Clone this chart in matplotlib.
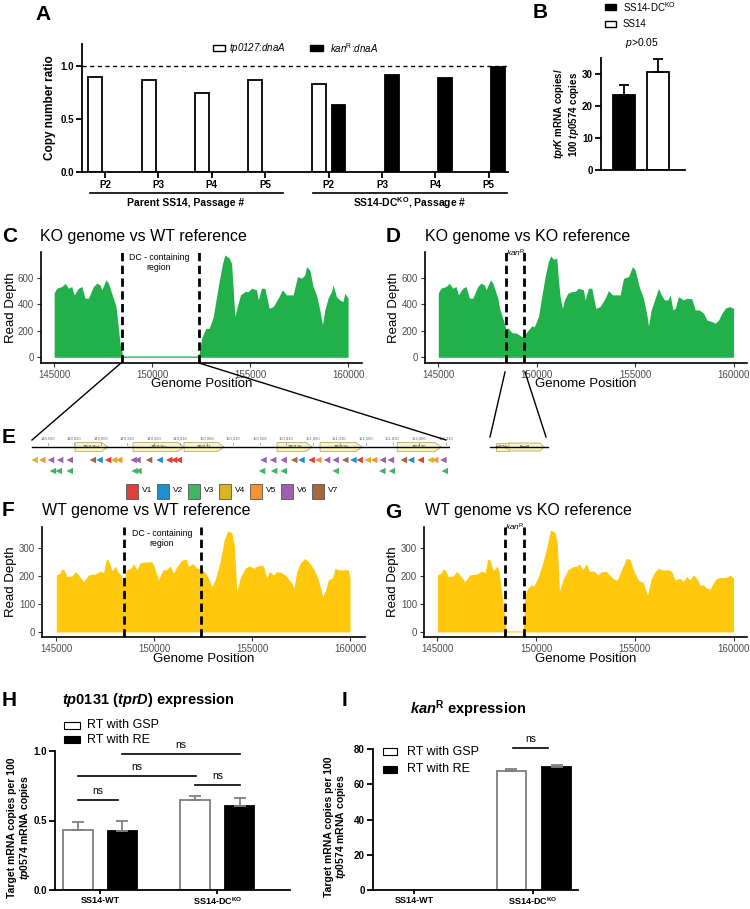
import numpy as np
import matplotlib
matplotlib.use('Agg')
import matplotlib.pyplot as plt
from matplotlib.patches import Rectangle, Polygon
from matplotlib.lines import Line2D

plt.rcParams['font.family'] = ['Liberation Sans', 'DejaVu Sans']
plt.rcParams['mathtext.fontset'] = 'custom'
plt.rcParams['mathtext.rm'] = 'Liberation Sans:bold'
plt.rcParams['mathtext.bf'] = 'Liberation Sans:bold'
plt.rcParams['mathtext.it'] = 'Liberation Sans:italic:bold'
plt.rcParams['mathtext.sf'] = 'Liberation Sans:italic'
plt.rcParams['mathtext.cal'] = 'Liberation Sans'

# ---------------- data ----------------
# A: copy number ratios
passages = ['P2', 'P3', 'P4', 'P5']
parent_tp0127 = [0.90, 0.865, 0.75, 0.865]
ko_tp0127 = [0.835, 0.0, 0.0, 0.0]
ko_kanR = [0.635, 0.92, 0.885, 0.995]

# B: tprK expression
b_means = [23.3, 30.7]
b_err = [3.2, 4.0]

# C/D: KO genome read depth (shared left flank)
ko_left_pos = [145000, 145136, 145391, 145560, 145730, 145900, 146019, 146240, 146410,
               146580, 146750, 147004, 147174, 147344, 147429, 147650, 147769, 148024]
ko_left_depth = [485, 520, 533, 557, 520, 533, 470, 520, 533,
                 445, 445, 533, 558, 545, 508, 583, 558, 445]
c_pos = [148160, 148363, 148500, 148600, 152300, 152406, 152525, 152746, 152916, 153120,
         153375, 153595, 153714, 153935, 154054, 154224, 154343, 154513, 154734, 154903,
         155073, 155328, 155413, 155583, 155752, 155973, 156177, 156432, 156653, 156857,
         157197, 157417, 157621, 157791, 157876, 158046, 158216, 158386, 158556, 158692,
         158810, 158980, 159150, 159235, 159405, 159575, 159745, 159830, 160000]
c_depth = [382, 105, 12, 10, 10, 30, 143, 218, 218, 306,
           533, 708, 771, 746, 708, 306, 382, 470, 495, 495,
           520, 508, 432, 520, 520, 369, 382, 445, 508, 470,
           470, 608, 595, 620, 683, 658, 533, 470, 357, 244,
           357, 445, 495, 545, 457, 432, 420, 482, 445]
d_pos = [148136, 148305, 148424, 148559, 148729, 148983, 149237, 149373, 149576, 149746,
         149881, 150085, 150254, 150424, 150593, 150712, 150847, 151017, 151102, 151186,
         151305, 151407, 151576, 151780, 151949, 152119, 152373, 152458, 152627, 152797,
         153000, 153220, 153475, 153644, 153847, 154237, 154407, 154661, 154864, 155000,
         155203, 155424, 155593, 155678, 155813, 156017, 156186, 156322, 156491, 156661,
         156780, 156915, 157034, 157203, 157458, 157627, 157881, 158051, 158254, 158475,
         158644, 158898, 159068, 159237, 159407, 159576, 159780, 160000]
d_depth = [357, 281, 218, 218, 186, 181, 156, 168, 206, 236,
           231, 306, 457, 608, 721, 764, 739, 746, 583, 457,
           369, 432, 482, 495, 495, 520, 508, 432, 520, 520,
           369, 382, 445, 502, 470, 470, 595, 608, 683, 658,
           533, 445, 319, 236, 357, 445, 520, 470, 432, 432,
           470, 357, 369, 457, 432, 445, 440, 357, 357, 332,
           281, 269, 256, 281, 332, 369, 382, 369]

# F/G: WT genome read depth
f_pos = [145000, 145170, 145289, 145408, 145544, 145799, 145969, 146139, 146395, 146650,
         146990, 147245, 147415, 147551, 147670, 147840, 148010, 148129, 148299, 148435,
         148571, 148810, 148946, 149116, 149286, 149626, 149881, 150000, 150221, 150442,
         150646, 150816, 150986, 151156, 151412, 151633, 151752, 151973, 152177, 152381,
         152602, 152772, 152942, 153112, 153367, 153571, 153759, 153963, 154099, 154218,
         154388, 154643, 154864, 155068, 155238, 155408, 155578, 155748, 155884, 156088,
         156259, 156514, 156769, 157024, 157143, 157279, 157449, 157670, 157789, 157959,
         158214, 158384, 158605, 158724, 158895, 159116, 159235, 159405, 159660, 159915,
         160000]
f_depth = [205, 210, 226, 222, 199, 201, 217, 205, 181, 205,
           208, 219, 213, 261, 258, 220, 237, 217, 205, 177,
           223, 229, 246, 223, 249, 252, 252, 235, 187, 223,
           225, 237, 211, 235, 258, 261, 235, 246, 229, 229,
           213, 193, 163, 187, 252, 330, 363, 356, 306, 145,
           193, 229, 237, 229, 235, 240, 237, 193, 217, 205,
           217, 213, 199, 175, 157, 217, 246, 264, 258, 246,
           217, 187, 127, 145, 187, 196, 229, 223, 223, 223,
           193]
g_pos = [148220, 148356, 148475, 148540, 149356, 149441, 149576, 149746, 149881, 150085,
         150305, 150508, 150729, 150932, 151068, 151186, 151356, 151610, 151864, 152034,
         152203, 152373, 152542, 152712, 152915, 153136, 153305, 153559, 153729, 153949,
         154119, 154322, 154576, 154746, 154966, 155169, 155424, 155644, 155813, 156017,
         156220, 156356, 156559, 156729, 156864, 157034, 157288, 157458, 157627, 157797,
         157966, 158136, 158305, 158475, 158644, 158814, 158983, 159153, 159407, 159661,
         159831, 160000]
g_depth = [163, 92, 14, 4, 4, 133, 157, 169, 165, 193,
           240, 294, 365, 360, 324, 145, 187, 223, 235, 235,
           244, 223, 246, 217, 220, 205, 217, 217, 205, 189,
           187, 223, 264, 261, 217, 187, 177, 133, 187, 217,
           229, 223, 223, 223, 217, 187, 193, 181, 199, 187,
           205, 193, 169, 169, 157, 154, 177, 193, 196, 196,
           205, 193]

dc_region = [148450, 152400]
kan_region = [148430, 149375]

# E: gene map of DC-containing region
gene_names = ['TP0126d', 'TP0126c', 'TP0127', 'TP0128', 'TP0129', 'TP0130']
gene_start = [148816, 149363, 149844, 150721, 151127, 151854]
gene_end = [149127, 149844, 150221, 151052, 151523, 152269]
motif_pos = [148435, 148507, 148589, 148675, 148766, 148984, 149047, 149128, 149183, 149233,
             149369, 149405, 149514, 149614, 149704, 149750, 149795, 150593, 150684, 150784,
             150883, 150951, 151047, 151110, 151192, 151274, 151364, 151441, 151500, 151577,
             151636, 151718, 151795, 151917, 151985, 152076, 152167, 152212, 152289,
             148607, 148662, 148766, 149378, 149414, 150579, 150693, 150784, 151274, 151714,
             151804, 152303]
motif_row = [1] * 39 + [2] * 12
motif_type = ['V4', 'V5', 'V6', 'V6', 'V6', 'V7', 'V2', 'V1', 'V4', 'V5',
              'V6', 'V6', 'V7', 'V2', 'V1', 'V1', 'V1', 'V6', 'V6', 'V6',
              'V7', 'V2', 'V1', 'V5', 'V6', 'V6', 'V7', 'V2', 'V1', 'V4',
              'V5', 'V6', 'V6', 'V7', 'V2', 'V1', 'V4', 'V5', 'V6',
              'V3', 'V3', 'V3', 'V3', 'V3', 'V3', 'V3', 'V3', 'V3', 'V3',
              'V3', 'V3']
v_names = ['V1', 'V2', 'V3', 'V4', 'V5', 'V6', 'V7']
v_colors = ['#e0403a', '#1f8fd0', '#3fb560', '#d8b526', '#f59331', '#9d62ad', '#a4683f']

# H: tp0131 expression
h_groups = ['SS14-WT', r'SS14-DC$^{\mathrm{KO}}$']
h_gsp = [0.435, 0.646]
h_gsp_err = [0.051, 0.030]
h_re = [0.423, 0.603]
h_re_err = [0.077, 0.059]

# I: kanR expression
i_gsp = [0.0, 67.4]
i_gsp_err = [0.0, 1.3]
i_re = [0.0, 69.6]
i_re_err = [0.0, 1.5]

# ---------------- helpers ----------------
W, H = 750, 909
fig = plt.figure(figsize=(7.5, 9.09), dpi=100)


def box(l, t, r, b):
    return [l / W, 1 - b / H, (r - l) / W, (b - t) / H]


def ftext(x, y, s, **kw):
    kw.setdefault('va', 'center')
    fig.text(x / W, 1 - y / H, s, **kw)


def fline(x0, y0, x1, y1, **kw):
    kw.setdefault('color', 'black')
    fig.add_artist(Line2D([x0 / W, x1 / W], [1 - y0 / H, 1 - y1 / H],
                          transform=fig.transFigure, **kw))


def frect(x, y, w, h, **kw):
    fig.add_artist(Rectangle((x / W, 1 - (y + h) / H), w / W, h / H,
                             transform=fig.transFigure, **kw))


def prism_axes(ax, size=7):
    for s in ['top', 'right']:
        ax.spines[s].set_visible(False)
    for s in ['left', 'bottom']:
        ax.spines[s].set_linewidth(1.3)
    ax.tick_params(width=1.3, length=4, labelsize=size, pad=2)
    for lab in ax.get_xticklabels() + ax.get_yticklabels():
        lab.set_fontweight('bold')


def coverage(ax, pos, depth, color, vlines, xlim, ylim, yticks):
    ax.fill_between(pos, 0, depth, color=color, lw=0)
    for v in vlines:
        ax.axvline(v, color='black', lw=2, ls=(0, (3, 1.6)))
    ax.set_xlim(xlim)
    ax.set_ylim(ylim)
    ax.set_xticks([145000, 150000, 155000, 160000])
    ax.set_yticks(yticks)
    for s in ['top', 'right']:
        ax.spines[s].set_visible(False)
    for s in ['left', 'bottom']:
        ax.spines[s].set_linewidth(1.2)
    ax.tick_params(colors='#333333', labelcolor='#4d4d4d', labelsize=7, length=3, pad=2)
    ax.set_xlabel('Genome Position', fontsize=9.5)
    ax.set_ylabel('Read Depth', fontsize=9.5)
    ax.xaxis.label.set_va('center')
    ax.yaxis.label.set_va('center')


# ---------------- A ----------------
ax_a = fig.add_axes(box(82, 44, 508, 172))
x_par = np.arange(4)
x_ko = np.arange(4) + 4.2
ax_a.bar(x_par - 0.18, parent_tp0127, 0.26, color='white', edgecolor='black', lw=1.3)
ko_w = np.array(ko_tp0127)
ax_a.bar((x_ko - 0.18)[ko_w > 0], ko_w[ko_w > 0], 0.26, color='white', edgecolor='black', lw=1.3)
ax_a.bar(x_ko + 0.18, ko_kanR, 0.26, color='black', edgecolor='black', lw=1.3)
ax_a.axhline(1.0, color='black', lw=1, ls=(0, (3, 2.5)))
ax_a.set_xlim(-0.43, 7.56)
ax_a.set_ylim(0, 1.21)
ax_a.set_yticks([0, 0.5, 1.0])
ax_a.set_yticklabels(['0.0', '0.5', '1.0'])
ax_a.set_xticks(np.r_[x_par, x_ko])
ax_a.set_xticklabels(passages * 2)
prism_axes(ax_a)
ax_a.set_ylabel('Copy number ratio', fontsize=8.5, fontweight='bold', va='center')
ax_a.yaxis.set_label_coords(-0.075, 0.5)
frect(213, 45, 12, 6, facecolor='white', edgecolor='black', lw=1)
ftext(229, 48, r'$\mathsf{tp0127}$:$\mathsf{dnaA}$', fontsize=7)
frect(310, 45, 13, 6, facecolor='black', edgecolor='black', lw=1)
ftext(330, 48, r'$\mathsf{kan}^{\mathcal{R}}$:$\mathsf{dnaA}$', fontsize=7)
fline(90, 193, 283, 193, lw=1.2)
fline(313, 193, 507, 193, lw=1.2)
ftext(186, 203, 'Parent SS14, Passage #', ha='center', fontsize=7.5, fontweight='bold')
ftext(410, 203, r'SS14-DC$^{\mathrm{KO}}$, Passage #', ha='center', fontsize=7.5, fontweight='bold')

# ---------------- B ----------------
ax_b = fig.add_axes(box(601, 58, 685, 170))
ax_b.bar([0, 1], b_means, 0.66, color=['black', 'white'], edgecolor='black', lw=1.3)
ax_b.errorbar([0, 1], b_means, yerr=[[0, 0], b_err], fmt='none', ecolor='black',
              elinewidth=1.3, capsize=3.5, capthick=1.3)
ax_b.set_xlim(-0.67, 1.79)
ax_b.set_ylim(0, 35)
ax_b.set_yticks([0, 10, 20, 30])
ax_b.set_xticks([])
prism_axes(ax_b)
ax_b.set_ylabel(r'$\mathit{tprK}$ mRNA copies/' + '\n' + r'100 $\mathit{tp0574}$ copies',
                fontsize=7, fontweight='bold', linespacing=1.05, va='center')
ax_b.yaxis.set_label_coords(-0.41, 0.5)
frect(605, 4, 11, 6, facecolor='black', edgecolor='black', lw=1)
ftext(623, 7, r'SS14-DC$^{\mathcal{KO}}$', fontsize=7)
frect(605, 21, 11, 6, facecolor='white', edgecolor='black', lw=1)
ftext(623, 24, 'SS14', fontsize=7)
ftext(642, 43, r'$\mathsf{p}$>0.05', ha='center', fontsize=7.5)

# ---------------- C / D ----------------
green = '#22b04b'
ax_c = fig.add_axes(box(41, 252, 362, 363))
coverage(ax_c, ko_left_pos + c_pos, ko_left_depth + c_depth, green, dc_region,
         (144330, 160710), (-43, 793), [0, 200, 400, 600])
ax_c.xaxis.set_label_coords(0.5, -0.19)
ax_c.yaxis.set_label_coords(-0.095, 0.5)
ftext(159, 258, 'DC - containing', ha='center', fontsize=6.3)
ftext(159, 268, 'region', ha='center', fontsize=6.3)
ftext(40, 236, 'KO genome vs WT reference', fontsize=11.5)

ax_d = fig.add_axes(box(425, 252, 747, 363))
coverage(ax_d, ko_left_pos + d_pos, ko_left_depth + d_depth, green, kan_region,
         (144324, 160681), (-43, 793), [0, 200, 400, 600])
ax_d.xaxis.set_label_coords(0.5, -0.19)
ax_d.yaxis.set_label_coords(-0.095, 0.5)
ftext(516, 253, r'$\mathsf{kan}^{\mathcal{R}}$', ha='center', fontsize=6)
ftext(425, 236, 'KO genome vs KO reference', fontsize=11.5)

# ---------------- F / G ----------------
yellow = '#ffc80d'
ax_f = fig.add_axes(box(42, 527, 365, 637))
coverage(ax_f, f_pos, f_depth, yellow, dc_region,
         (144270, 160765), (-18, 377), [0, 100, 200, 300])
ax_f.xaxis.set_label_coords(0.5, -0.2)
ax_f.yaxis.set_label_coords(-0.095, 0.5)
ftext(162, 533, 'DC - containing', ha='center', fontsize=6.3)
ftext(162, 543, 'region', ha='center', fontsize=6.3)
ftext(42, 510, 'WT genome vs WT reference', fontsize=11.5)

ax_g = fig.add_axes(box(424, 527, 747, 637))
coverage(ax_g, f_pos[:18] + g_pos, f_depth[:18] + g_depth, yellow, kan_region,
         (144324, 160681), (-18, 377), [0, 100, 200, 300])
ax_g.xaxis.set_label_coords(0.5, -0.2)
ax_g.yaxis.set_label_coords(-0.095, 0.5)
ftext(515, 527, r'$\mathsf{kan}^{\mathcal{R}}$', ha='center', fontsize=6)
ftext(425, 510, 'WT genome vs KO reference', fontsize=11.5)

# ---------------- E ----------------
ax_e = fig.add_axes(box(20, 425, 450, 515))
ax_e.set_xlim(148297, 152352)
ax_e.set_ylim(515, 425)
ax_e.axis('off')
ax_e.plot([148410, 152350], [447, 447], color='black', lw=1)
for t in range(148560, 152311, 250):
    ax_e.plot([t, t], [445, 443], color='#888888', lw=0.5)
    ax_e.text(t, 439, f'{t:,}', ha='center', va='center', fontsize=3, color='#666666')
for name, s, e in zip(gene_names, gene_start, gene_end):
    tip = min(60, (e - s) * 0.3)
    ax_e.add_patch(Polygon([[s, 442.5], [e - tip, 442.5], [e, 447], [e - tip, 451.5], [s, 451.5]],
                           closed=True, facecolor='#f8f3c1', edgecolor='#b9ad6b', lw=0.6))
    ax_e.text((s + e) / 2, 447, name, ha='center', va='center', fontsize=3, color='#333333')
col = dict(zip(v_names, v_colors))
mp = np.array(motif_pos)
mr = np.array(motif_row)
for v in v_names:
    sel = np.array([m == v for m in motif_type])
    ax_e.scatter(mp[sel], np.where(mr[sel] == 1, 460, 471), marker='<', s=22,
                 color=col[v], edgecolors='none')
for k, (v, c) in enumerate(zip(v_names, v_colors)):
    x0 = 126 + k * 31
    frect(x0, 484, 12, 15, facecolor=c, edgecolor='#555555', lw=0.6)
    ftext(x0 + 16, 491, v, fontsize=6)
ftext(2, 437, 'E', fontsize=15, fontweight='bold')

# kanR insertion map
ax_k = fig.add_axes(box(486, 440, 552, 455))
ax_k.set_xlim(486, 552)
ax_k.set_ylim(455, 440)
ax_k.axis('off')
ax_k.plot([490, 548], [447, 447], color='black', lw=1)
ax_k.add_patch(Polygon([[496, 443], [509, 443], [509, 451], [496, 451]], closed=True,
                       facecolor='#f8f3c1', edgecolor='#b9ad6b', lw=0.6))
ax_k.add_patch(Polygon([[509, 443], [540, 443], [544, 447], [540, 451], [509, 451]], closed=True,
                       facecolor='#f8f3c1', edgecolor='#b9ad6b', lw=0.6))
ax_k.text(502.5, 447, 'tp0574p', ha='center', va='center', fontsize=2.5)
ax_k.text(525, 447, 'KanR', ha='center', va='center', fontsize=3)

# connectors
fline(121, 363, 32, 440, lw=1)
fline(199, 363, 446, 440, lw=1)
fline(505, 372, 490, 437, lw=1)
fline(525, 372, 546, 437, lw=1)

# ---------------- H ----------------
ax_h = fig.add_axes(box(55, 751, 290, 890))
xg = np.arange(2)
ax_h.bar(xg - 0.19, h_gsp, 0.25, color='white', edgecolor='#808080', lw=1.3)
ax_h.errorbar(xg - 0.19, h_gsp, yerr=[[0, 0], h_gsp_err], fmt='none', ecolor='#808080',
              elinewidth=1.3, capsize=4, capthick=1.3)
ax_h.bar(xg + 0.19, h_re, 0.25, color='black', edgecolor='black', lw=1.3)
ax_h.errorbar(xg + 0.19, h_re, yerr=[[0, 0], h_re_err], fmt='none', ecolor='#808080',
              elinewidth=1.3, capsize=4, capthick=1.3)
ax_h.set_xlim(-0.385, 1.62)
ax_h.set_ylim(0, 1.0)
ax_h.set_yticks([0, 0.5, 1.0])
ax_h.set_yticklabels(['0.0', '0.5', '1.0'])
ax_h.set_xticks(xg)
ax_h.set_xticklabels(h_groups)
prism_axes(ax_h)
ax_h.tick_params(axis='x', length=3, pad=1, labelsize=6.5)
for x0, x1, y in [(-0.19, 0.154, 0.646), (0.81, 1.19, 0.755), (-0.19, 0.82, 0.82), (0.19, 1.19, 0.98)]:
    ax_h.plot([x0, x1], [y, y], color='black', lw=1.2, clip_on=False)
    ax_h.text((x0 + x1) / 2, y + 0.03, 'ns', ha='center', va='bottom', fontsize=7.5)
ax_h.set_ylabel('Target mRNA copies per 100\n' + r'$\mathit{tp0574}$ mRNA copies',
                fontsize=7.5, fontweight='bold', linespacing=1.05, va='center')
ax_h.yaxis.set_label_coords(-0.15, 0.45)
ftext(62, 700, r'$\mathit{tp0131}$ ($\mathit{tprD}$) expression', fontsize=10.5, fontweight='bold')
frect(64, 722, 16, 7, facecolor='white', edgecolor='black', lw=0.8)
ftext(87, 725, 'RT with GSP', fontsize=9)
frect(64, 736, 16, 7, facecolor='black', edgecolor='black', lw=0.8)
ftext(87, 740, 'RT with RE', fontsize=9)

# ---------------- I ----------------
ax_i = fig.add_axes(box(373, 749, 578, 890))
gsp = np.array(i_gsp)
re_ = np.array(i_re)
m = gsp > 0
ax_i.bar((xg - 0.18)[m], gsp[m], 0.25, color='white', edgecolor='#808080', lw=1.3)
ax_i.errorbar((xg - 0.18)[m], gsp[m], yerr=[np.zeros(m.sum()), np.array(i_gsp_err)[m]],
              fmt='none', ecolor='#808080', elinewidth=1.3, capsize=4, capthick=1.3)
m2 = re_ > 0
ax_i.bar((xg + 0.2)[m2], re_[m2], 0.25, color='black', edgecolor='black', lw=1.3)
ax_i.errorbar((xg + 0.2)[m2], re_[m2], yerr=[np.zeros(m2.sum()), np.array(i_re_err)[m2]],
              fmt='none', ecolor='#808080', elinewidth=1.3, capsize=4, capthick=1.3)
ax_i.set_xlim(-0.345, 1.38)
ax_i.set_ylim(0, 80)
ax_i.set_yticks([0, 20, 40, 60, 80])
ax_i.set_xticks(xg)
ax_i.set_xticklabels(h_groups)
prism_axes(ax_i)
ax_i.tick_params(axis='x', length=3, pad=1, labelsize=6.5)
ax_i.plot([0.83, 1.13], [80.6, 80.6], color='black', lw=1.2, clip_on=False)
ax_i.text(0.98, 83, 'ns', ha='center', va='bottom', fontsize=7.5)
ax_i.set_ylabel('Target mRNA copies per 100\n' + r'$\mathit{tp0574}$ mRNA copies',
                fontsize=7.5, fontweight='bold', linespacing=1.05, va='center')
ax_i.yaxis.set_label_coords(-0.18, 0.45)
ftext(410, 709, r'$\mathit{kan}^{\mathrm{R}}$ expression', fontsize=10.5, fontweight='bold')
frect(383, 748, 14, 7, facecolor='white', edgecolor='black', lw=0.8)
ftext(407, 752, 'RT with GSP', fontsize=9)
frect(383, 766, 14, 7, facecolor='black', edgecolor='black', lw=0.8)
ftext(407, 769, 'RT with RE', fontsize=9)

# panel letters
for lab, x, y in [('A', 35, 14), ('B', 533, 12), ('C', 2, 236), ('D', 386, 236),
                  ('F', 2, 510), ('G', 385, 512), ('H', 2, 700), ('I', 342, 700)]:
    ftext(x, y, lab, fontsize=15, fontweight='bold')

fig.savefig('out.png', dpi=100)
